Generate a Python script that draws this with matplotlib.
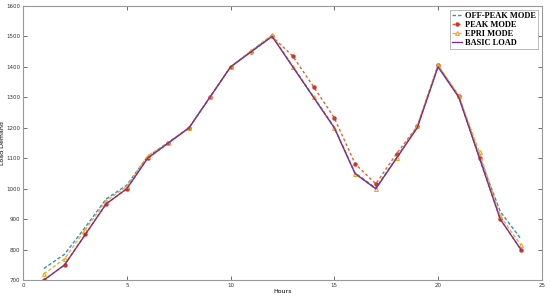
import matplotlib
matplotlib.use("Agg")
import matplotlib.pyplot as plt

hours = list(range(1, 25))
basic = [700, 750, 850, 950, 1000, 1100, 1150, 1200, 1300, 1400, 1450, 1500,
         1400, 1300, 1200, 1050, 1000, 1100, 1200, 1400, 1300, 1100, 900, 800]
peak = [700, 750, 850, 950, 1000, 1100, 1150, 1200, 1300, 1400, 1450, 1500,
        1435, 1335, 1233, 1082, 1016, 1115, 1205, 1405, 1305, 1100, 900, 800]
epri = [720, 770, 866, 960, 1008, 1108, 1150, 1200, 1300, 1400, 1453, 1505,
        1400, 1300, 1200, 1050, 998, 1100, 1205, 1405, 1305, 1120, 910, 815]
offpeak = [738, 785, 874, 966, 1012, 1106, 1152, 1200, 1300, 1400, 1452, 1503,
           1402, 1302, 1202, 1052, 1002, 1102, 1203, 1403, 1303, 1105, 925, 835]

xticks = [0, 5, 10, 15, 20, 25]
yticks = [700, 800, 900, 1000, 1100, 1200, 1300, 1400, 1500, 1600]

fig = plt.figure(figsize=(5.5, 2.98), dpi=100)
ax = fig.add_axes([0.042, 0.06, 0.943, 0.92])

ax.plot(hours, offpeak, color='#2b8fd6', lw=1.0, ls=(0, (2.5, 1.5)), label='OFF-PEAK MODE')
ax.plot(hours, peak, color='#E0622A', lw=1.0, ls=(0, (2, 1.8)), marker='o', ms=2.2,
        mfc='#D0352A', mec='#D0352A', label='PEAK MODE')
ax.plot(hours, epri, color='#F0B030', lw=1.0, ls=(0, (2.5, 1.5)), marker='^', ms=2.8,
        mfc='none', mec='#F0A820', mew=0.8, label='EPRI MODE')
ax.plot(hours, basic, color='#7E2F8E', lw=1.0, label='BASIC LOAD')

ax.set_xlim(0, 25)
ax.set_ylim(700, 1600)
ax.set_xticks(xticks)
ax.set_yticks(yticks)
ax.tick_params(direction='in', labelsize=4, length=3, width=0.5, colors='#333333',
               top=True, right=True, pad=2)
for s in ax.spines.values():
    s.set_color('#999999')
    s.set_linewidth(0.8)
ax.set_xlabel('Hours', fontsize=4.5, labelpad=1)
ax.set_ylabel('Load Demand', fontsize=4.5, labelpad=1)

leg = ax.legend(loc='upper right', prop={'family': 'Liberation Serif', 'weight': 'bold', 'size': 6},
                frameon=True, fancybox=False, edgecolor='#999999', handlelength=1.2,
                handletextpad=0.3, borderpad=0.25, labelspacing=0.1, borderaxespad=0.5)
leg.get_frame().set_linewidth(0.6)

fig.savefig('out.png', dpi=100)
